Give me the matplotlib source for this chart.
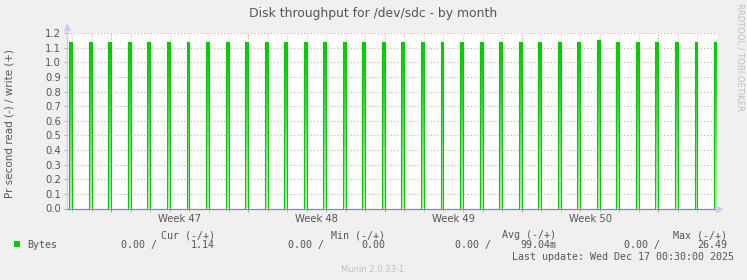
import numpy as np
import matplotlib
matplotlib.use("Agg")
import matplotlib.pyplot as plt
from matplotlib.path import Path
from matplotlib.colors import LinearSegmentedColormap

# days (midnights) at which a write burst ends, day 0 = first midnight in view
spike_days = [0, 1, 2, 3, 4, 5, 6, 7, 8, 9, 10, 11, 12, 13, 14, 15, 16,
              17, 18, 19, 20, 21, 22, 23, 24, 25, 26, 27, 28, 29, 30, 31, 32, 33]
spike_heights = [1.14, 1.14, 1.14, 1.14, 1.14, 1.14, 1.14, 1.14, 1.14, 1.14, 1.14, 1.14,
                 1.14, 1.14, 1.14, 1.14, 1.14, 1.14, 1.14, 1.14, 1.14, 1.14, 1.14, 1.14,
                 1.14, 1.14, 1.14, 1.15, 1.14, 1.14, 1.14, 1.14, 1.14, 1.14]
week_starts = [2, 9, 16, 23, 30]
week_labels = ["Week 47", "Week 48", "Week 49", "Week 50"]
y_ticks = [0.0, 0.1, 0.2, 0.3, 0.4, 0.5, 0.6, 0.7, 0.8, 0.9, 1.0, 1.1, 1.2]

burst_width = 0.15
green = "#00cc00"
txt = "#555555"

fig = plt.figure(figsize=(7.47, 2.80), dpi=100, facecolor="#f0f0f0")
ax = fig.add_axes([67/747, 71.5/280, 650/747, 175.5/280], facecolor="white")
ax.set_xlim(-0.27, 33.0)
ax.set_ylim(0, 1.2)

# grid
for y in y_ticks[1:]:
    ax.axhline(y, color="#e4a0a0", lw=0.8, ls=(0, (1, 2)), zorder=1)
for d in range(0, 33):
    if d in week_starts:
        continue
    ax.axvline(d, color="#c8c8c8", lw=0.8, ls=(0, (1, 2)), zorder=1)
for d in week_starts:
    ax.axvline(d, color="#f08888", lw=0.8, ls=(0, (1, 2)), zorder=1)

# bursts: gradient fill clipped to the rectangles, outline in green
verts = []
for d, h in zip(spike_days, spike_heights):
    verts.append(Path([(d - burst_width, 0), (d - burst_width, h), (d, h), (d, 0), (d - burst_width, 0)],
                      [Path.MOVETO, Path.LINETO, Path.LINETO, Path.LINETO, Path.CLOSEPOLY]))
clip = Path.make_compound_path(*verts)
cmap = LinearSegmentedColormap.from_list("g", ["#b8f0b8", "#80e480", "#33d633", "#00cc00"])
grad = np.linspace(0, 1, 200).reshape(-1, 1)
im = ax.imshow(grad, cmap=cmap, origin="lower", aspect="auto",
               extent=[-0.27, 33.0, 0, 1.14], zorder=2)
im.set_clip_path(clip, transform=ax.transData)
for d, h in zip(spike_days, spike_heights):
    ax.plot([d - burst_width, d - burst_width, d, d], [0, h, h, 0], color=green, lw=0.8,
            zorder=3, solid_joinstyle="miter")

# axes styling
for s in ["top", "right"]:
    ax.spines[s].set_visible(False)
ax.spines["left"].set_color("#c8ccf4")
ax.spines["bottom"].set_color("#8888a8")
ax.spines["left"].set_linewidth(0.9)
ax.spines["bottom"].set_linewidth(0.9)
ax.set_yticks(y_ticks)
ax.set_yticklabels(["%.1f" % v for v in y_ticks], color=txt, fontsize=7.2)
ax.tick_params(axis="y", length=2.5, width=0.8, color="#e4a0a0", pad=2)
ax.set_xticks(week_starts)
ax.set_xticklabels([])
ax.set_xticks(range(0, 33), minor=True)
ax.tick_params(axis="x", which="major", length=2.5, width=0.8, color="#f08888")
ax.tick_params(axis="x", which="minor", length=2.5, width=0.8, color="#c8c8c8")
for i, lab in enumerate(week_labels):
    ax.text(week_starts[i] + 3.5, -0.035, lab, ha="center", va="top", fontsize=7.2, color=txt)

# axis arrows
ax.plot([-0.27, -0.27], [1.2, 1.24], color="#c8ccf4", lw=0.9, clip_on=False)
ax.plot([-0.27], [1.24], marker="^", ms=4.5, color="#c8ccf4", clip_on=False, zorder=5)
ax.plot([33.12], [0], marker=">", ms=4.5, color="#c8ccf4", clip_on=False, zorder=5)

# texts
fig.text(373/747, 1 - 13/280, "Disk throughput for /dev/sdc - by month", ha="center", va="center",
         fontsize=8.9, color=txt)
fig.text(10/747, 1 - 124/280, "Pr second read (-) / write (+)", rotation=90, ha="center", va="center",
         fontsize=7.5, color=txt)
fig.text(740/747, 1 - 57/280, "RRDTOOL / TOBI OETIKER", rotation=270, ha="center", va="center",
         fontsize=6, color="#c0c0c0")

mono = dict(family="DejaVu Sans Mono", fontsize=7.2, color=txt, va="center")
fig.patches.append(plt.Rectangle((14/747, 1 - 247/280), 6/747, 6/280, transform=fig.transFigure,
                                 facecolor=green, edgecolor="none"))
fig.text(27/747, 1 - 245/280, "Bytes", ha="left", **mono)
headers = ["Cur (-/+)", "Min (-/+)", "Avg (-/+)", "Max (-/+)"]
header_right = [215, 385, 556, 727]
for hd, xr in zip(headers, header_right):
    fig.text(xr/747, 1 - 235/280, hd, ha="right", **mono)
read_vals = ["0.00", "0.00", "0.00", "0.00"]
write_vals = ["1.14", "0.00", "99.04m", "26.49"]
read_right = [157, 324, 491, 660]
for rv, wv, xr, xw in zip(read_vals, write_vals, read_right, header_right):
    fig.text(xr/747, 1 - 245/280, rv + " /", ha="right", **mono)
    fig.text(xw/747, 1 - 245/280, wv, ha="right", **mono)
fig.text(734/747, 1 - 257/280, "Last update: Wed Dec 17 00:30:00 2025", ha="right", **mono)
fig.text(373/747, 1 - 270/280, "Munin 2.0.33-1", ha="center", va="center", family="DejaVu Sans",
         fontsize=6, color="#c0c0c0")

fig.savefig("out.png", dpi=100, facecolor=fig.get_facecolor())
